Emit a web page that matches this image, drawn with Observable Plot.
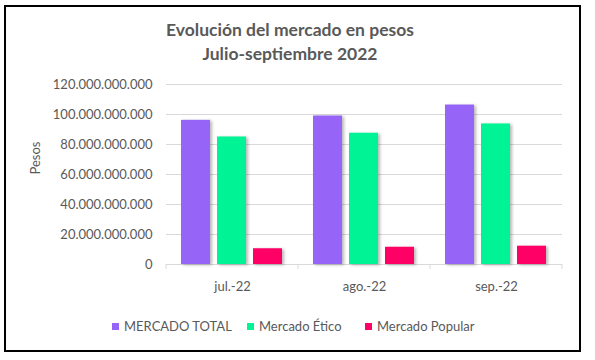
<!DOCTYPE html>
<html><head><meta charset="utf-8">
<script src="https://cdn.jsdelivr.net/npm/d3@7"></script>
<script src="https://cdn.jsdelivr.net/npm/@observablehq/plot@0.6"></script>
<style>
body{margin:0;background:#fff;font-family:Lato,"Open Sans",sans-serif;}
#frame{position:absolute;left:4px;top:5px;width:573px;height:343px;border:2px solid #000;box-sizing:content-box;}
#title{position:absolute;left:0;top:18px;width:580px;text-align:center;font-weight:bold;font-size:17.5px;line-height:24px;color:#595959;}
#chart{position:absolute;left:0;top:0;}
#legend{position:absolute;left:0;top:318px;width:595px;font-size:13px;color:#595959;}
.li{position:absolute;display:flex;align-items:center;white-space:nowrap;}
.sw{width:7px;height:7px;margin-right:5px;}
#chart rect.bar, #chart g.bar rect{filter:drop-shadow(2px 1px 1.5px rgba(0,0,0,0.28));}
</style></head>
<body>
<div id="frame"></div>
<div id="chart"></div>
<div id="title">Evolución del mercado en pesos<br>Julio-septiembre 2022</div>
<div id="legend"></div>
<script>
const months = ["jul.-22", "ago.-22", "sep.-22"];
const seriesNames = ["MERCADO TOTAL", "Mercado Ético", "Mercado Popular"];
const colors = ["#9665F8", "#00F495", "#FF0066"];
const mercadoTotal = [96.1e9, 99.0e9, 106.3e9];
const mercadoEtico = [85.0e9, 87.5e9, 93.7e9];
const mercadoPopular = [10.5e9, 11.5e9, 12.2e9];
const yTicks = [0, 20e9, 40e9, 60e9, 80e9, 100e9, 120e9];

const seriesValues = [mercadoTotal, mercadoEtico, mercadoPopular];
const data = [];
months.forEach((m, i) => seriesNames.forEach((s, j) => data.push({month: m, series: s, value: seriesValues[j][i]})));

const loc = d3.formatLocale({decimal: ",", thousands: ".", grouping: [3], currency: ["$", ""]});
const fmt = loc.format(",");

const boundaryRender = (index, scales, values, dims) => {
  const g = d3.create("svg:g");
  const x0 = dims.marginLeft, x1 = dims.width - dims.marginRight;
  const yb = scales.y(0);
  const n = months.length;
  for (let i = 0; i <= n; i++) {
    const x = x0 + (x1 - x0) * i / n;
    g.append("line").attr("x1", x).attr("x2", x).attr("y1", yb).attr("y2", yb + 5)
      .attr("stroke", "#d9d9d9");
  }
  return g.node();
};

const chart = Plot.plot({
  width: 595,
  height: 300,
  marginLeft: 165,
  marginRight: 33,
  marginTop: 84,
  marginBottom: 36,
  style: {fontFamily: "Lato, 'Open Sans', sans-serif", fontSize: "13px", color: "#595959", background: "transparent"},
  fx: {domain: months, padding: 0, label: null},
  x: {domain: seriesNames, paddingInner: 0.19, paddingOuter: 0.38, axis: null},
  y: {domain: [0, 120e9], ticks: yTicks, label: null},
  color: {domain: seriesNames, range: colors},
  marks: [
    Plot.gridY(yTicks, {stroke: "#d9d9d9", strokeOpacity: 1}),
    Plot.ruleY([0], {stroke: "#d9d9d9"}),
    Plot.axisY(yTicks, {tickSize: 0, tickPadding: 14, tickFormat: fmt, label: null, fill: "#595959", fontSize: 13}),
    Plot.axisFx({anchor: "bottom", tickSize: 0, tickPadding: 17, label: null, fill: "#595959", fontSize: 13}),
    Plot.barY(data, {fx: "month", x: "series", y: "value", fill: "series", className: "bar"}),
    Plot.text(["|"], {facet: "super", frameAnchor: "bottom", render: boundaryRender}),
    Plot.text(["Pesos"], {frameAnchor: "left", dx: -131, rotate: -90, fill: "#595959", fontSize: 13, facet: "super"})
  ]
});
document.getElementById("chart").appendChild(chart);

const legPos = [112, 247, 365];
const leg = document.getElementById("legend");
seriesNames.forEach((s, i) => {
  const d = document.createElement("div");
  d.className = "li";
  d.style.left = legPos[i] + "px";
  d.innerHTML = `<span class="sw" style="background:${colors[i]}"></span><span>${s}</span>`;
  leg.appendChild(d);
});
</script>
</body></html>
